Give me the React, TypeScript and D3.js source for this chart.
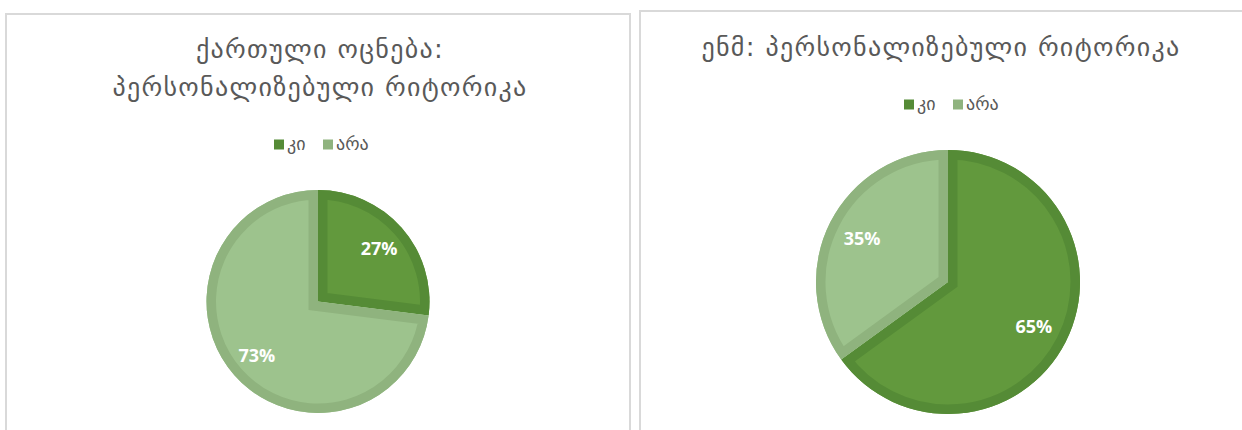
import React, { useEffect, useRef } from "react";
import * as d3 from "d3";

const categories = ["კი", "არა"];
const leftValues = [27, 73];
const rightValues = [65, 35];
const leftTitle = ["ქართული ოცნება:", "პერსონალიზებული რიტორიკა"];
const rightTitle = ["ენმ: პერსონალიზებული რიტორიკა"];

const fills = ["#62993D", "#9DC38D"];
const borders = ["#558B36", "#8FB37E"];

const W = 1242;
const H = 430;
const FONT = "'DejaVu Sans', 'Noto Sans', sans-serif";

type PanelSpec = {
  id: string;
  x0: number;
  x1: number;
  y0: number;
  title: string[];
  titleX: number;
  titleY: number[];
  legendY: number;
  legendX: number;
  cx: number;
  cy: number;
  r: number;
  values: number[];
};

const panels: PanelSpec[] = [
  {
    id: "L",
    x0: 6,
    x1: 630,
    y0: 14,
    title: leftTitle,
    titleX: 320,
    titleY: [58, 96],
    legendY: 144.5,
    legendX: 274,
    cx: 318,
    cy: 301.5,
    r: 111.5,
    values: leftValues,
  },
  {
    id: "R",
    x0: 640,
    x1: 1260,
    y0: 11,
    title: rightTitle,
    titleX: 941,
    titleY: [56],
    legendY: 104.5,
    legendX: 904,
    cx: 948,
    cy: 282,
    r: 132,
    values: rightValues,
  },
];

export default function App() {
  const ref = useRef<SVGSVGElement>(null);

  useEffect(() => {
    const svg = d3.select(ref.current);
    svg.selectAll("*").remove();
    svg.append("rect").attr("width", W).attr("height", H).attr("fill", "#ffffff");
    const defs = svg.append("defs");

    panels.forEach((p) => {
      const g = svg.append("g");
      g.append("rect")
        .attr("x", p.x0)
        .attr("y", p.y0)
        .attr("width", p.x1 - p.x0)
        .attr("height", H + 20 - p.y0)
        .attr("fill", "#ffffff")
        .attr("stroke", "#D9D9D9")
        .attr("stroke-width", 2);

      p.title.forEach((t, i) => {
        g.append("text")
          .attr("x", p.titleX)
          .attr("y", p.titleY[i])
          .attr("text-anchor", "middle")
          .attr("font-family", FONT)
          .attr("font-size", 26)
          .attr("letter-spacing", 1.3)
          .attr("fill", "#595959")
          .text(t);
      });

      // legend
      const lg = g.append("g").attr("transform", `translate(${p.legendX},${p.legendY})`);
      const offsets = [0, 49];
      categories.forEach((c, i) => {
        lg.append("rect")
          .attr("x", offsets[i])
          .attr("y", -5)
          .attr("width", 10)
          .attr("height", 10)
          .attr("fill", borders[i]);
        lg.append("text")
          .attr("x", offsets[i] + 13)
          .attr("y", 5)
          .attr("font-family", FONT)
          .attr("font-size", 18)
          .attr("fill", "#595959")
          .text(c);
      });

      // pie
      const pie = d3.pie<number>().sort(null).value((d) => d);
      const arcs = pie(p.values);
      const arc = d3.arc<d3.PieArcDatum<number>>().innerRadius(0).outerRadius(p.r);
      const labelArc = d3
        .arc<d3.PieArcDatum<number>>()
        .innerRadius(p.r * 0.73)
        .outerRadius(p.r * 0.73);
      const pg = g.append("g").attr("transform", `translate(${p.cx},${p.cy})`);
      arcs.forEach((a, i) => {
        const id = `clip-${p.id}-${i}`;
        const d = arc(a) as string;
        defs.append("clipPath").attr("id", id).append("path").attr("d", d);
        pg.append("path").attr("d", d).attr("fill", fills[i]);
        pg.append("path")
          .attr("d", d)
          .attr("fill", "none")
          .attr("stroke", borders[i])
          .attr("stroke-width", 19)
          .attr("stroke-linejoin", "miter")
          .attr("clip-path", `url(#${id})`);
      });
      arcs.forEach((a) => {
        const [lx, ly] = labelArc.centroid(a);
        g.append("text")
          .attr("x", p.cx + lx)
          .attr("y", p.cy + ly)
          .attr("text-anchor", "middle")
          .attr("dominant-baseline", "central")
          .attr("font-family", "'Open Sans', 'DejaVu Sans', sans-serif")
          .attr("font-weight", 700)
          .attr("font-size", 18)
          .attr("fill", "#ffffff")
          .text(`${a.data}%`);
      });
    });
  }, []);

  return (
    <svg
      ref={ref}
      width={W}
      height={H}
      style={{ position: "absolute", left: 0, top: 0, display: "block" }}
    />
  );
}
